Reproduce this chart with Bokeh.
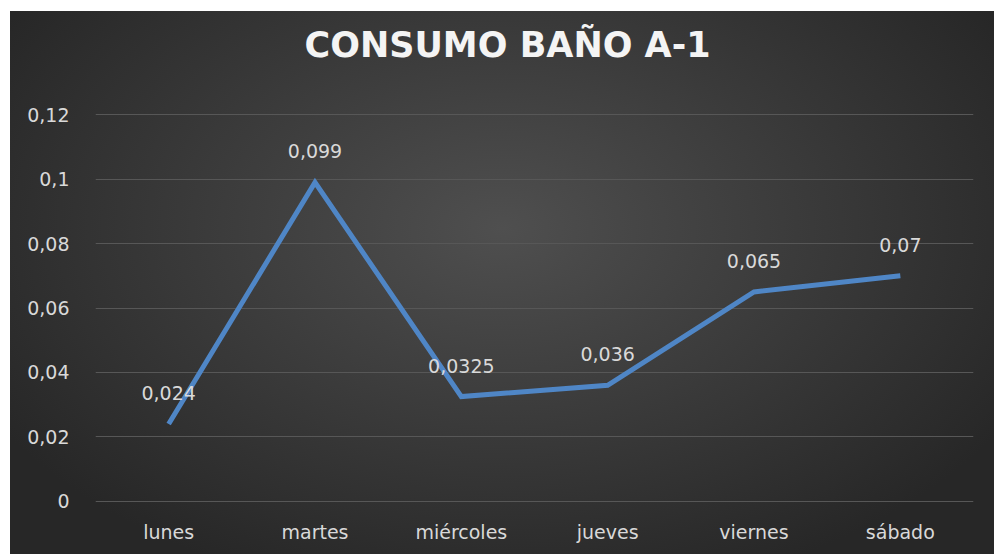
from bokeh.plotting import figure
from bokeh.models import ColumnDataSource, Range1d, FixedTicker, CustomJSTickFormatter, Title
from bokeh.embed import file_html
from bokeh.resources import INLINE
from bokeh.core.properties import value

days = ["lunes", "martes", "miércoles", "jueves", "viernes", "sábado"]
consumo = [0.024, 0.099, 0.0325, 0.036, 0.065, 0.07]
labels = ["0,024", "0,099", "0,0325", "0,036", "0,065", "0,07"]
y_ticks = [0, 0.02, 0.04, 0.06, 0.08, 0.1, 0.12]
title_text = "CONSUMO BAÑO A-1"

FONT = "DejaVu Sans"
TXT = "#d9d9d9"
W, H = 984, 543

src = ColumnDataSource(dict(day=days, v=consumo, lab=labels))

p = figure(x_range=days, y_range=Range1d(-0.0004, 0.1204), width=W, height=H,
           output_backend="svg", toolbar_location=None,
           min_border_left=85, min_border_right=21, min_border_bottom=52, min_border_top=102)
p.x_range.range_padding = 0
p.background_fill_color = None
p.border_fill_color = None
p.outline_line_color = None
p.styles = {"background": "radial-gradient(ellipse 60% 70% at 50% 40%, #4f4f4f 0%, #3b3b3b 50%, #272727 100%)",
            "margin-left": "10px", "margin-top": "11px"}

# empty spacer between the frame and the title, to lift the title
p.add_layout(Title(text=" ", text_font_size="1px", standoff=44), "above")

p.title.text = title_text
p.title.align = "left"
p.title.offset = 209
p.title.vertical_align = "top"
p.title.standoff = 0
p.title.text_color = "#f4f4f4"
p.title.text_font = FONT
p.title.text_font_size = "35px"
p.title.text_font_style = "bold"

p.xgrid.grid_line_color = None
p.ygrid.grid_line_color = "#575757"
p.ygrid.grid_line_width = 1
p.yaxis.ticker = FixedTicker(ticks=y_ticks)
p.yaxis.formatter = CustomJSTickFormatter(code="return String(parseFloat(tick.toFixed(4))).replace('.', ',');")

for ax in (p.xaxis, p.yaxis):
    ax.axis_line_color = None
    ax.major_tick_line_color = None
    ax.minor_tick_line_color = None
    ax.major_label_text_color = TXT
    ax.major_label_text_font = FONT
    ax.major_label_text_font_size = "19px"
p.yaxis.major_label_standoff = 20
p.xaxis.major_label_standoff = 12

p.line("day", "v", source=src, line_color="#4f86c6", line_width=5, line_join="miter")
p.text("day", "v", text="lab", source=src, text_align="center", text_baseline="middle",
       y_offset=-31, text_color=TXT, text_font=value(FONT), text_font_size="19px")

open("out.html", "w").write(file_html(p, INLINE))
